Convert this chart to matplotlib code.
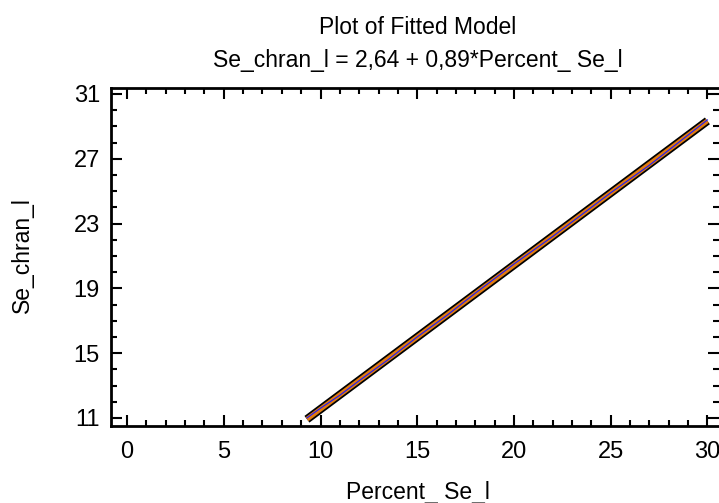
import matplotlib
matplotlib.use("Agg")
import matplotlib.pyplot as plt
from matplotlib.ticker import MultipleLocator

x_obs = [9.3, 10.0, 11.0, 12.0, 13.5, 15.0, 16.5, 18.0, 20.0, 22.0, 24.0, 25.0, 27.0, 28.5, 30.0]
y_obs = [11.0, 11.6, 12.4, 13.3, 14.6, 16.0, 17.3, 18.7, 20.5, 22.2, 24.0, 24.9, 26.6, 28.0, 29.4]

# fitted line end points
x_fit = [9.3, 30.0]
y_fit = [2.64 + 0.89 * 9.3, 2.64 + 0.89 * 30.0]

x_ticks = [0, 5, 10, 15, 20, 25, 30]
y_ticks = [11, 15, 19, 23, 27, 31]

plt.rcParams["font.family"] = ["Liberation Sans", "DejaVu Sans"]

W, H = 719, 503
fig = plt.figure(figsize=(W / 100, H / 100), dpi=100)
ax = fig.add_axes([111 / W, 1 - 426 / H, (719 - 111) / W, (426 - 88) / H])

ax.plot(x_fit, y_fit, color="black", lw=6, solid_capstyle="butt")
ax.plot(x_fit, y_fit, color="#e07a10", lw=3.5, solid_capstyle="butt")
ax.plot(x_obs, y_obs, color="#1a1aff", lw=0.8)

ax.set_xlim(-0.83, 30.6)
ax.set_ylim(10.5, 31.37)
ax.set_xticks(x_ticks)
ax.set_yticks(y_ticks)
ax.xaxis.set_minor_locator(MultipleLocator(1))
ax.yaxis.set_minor_locator(MultipleLocator(1))

for s in ["left", "bottom", "top"]:
    ax.spines[s].set_linewidth(2)
ax.spines["right"].set_visible(False)

ax.tick_params(which="both", direction="in", top=True, right=True, width=1.5)
ax.tick_params(which="major", length=8, labelsize=17)
ax.tick_params(which="minor", length=4)
ax.tick_params(axis="x", pad=11)
ax.tick_params(axis="y", pad=8)

fig.text(418 / W, 1 - 27 / H, "Plot of Fitted Model", ha="center", va="center", fontsize=16.5)
fig.text(418 / W, 1 - 60 / H, "Se_chran_l = 2,64 + 0,89*Percent_ Se_l",
         ha="center", va="center", fontsize=16.5)
fig.text(418 / W, 1 - 499 / H, "Percent_ Se_l", ha="center", va="baseline", fontsize=16.5)
fig.text(22 / W, 1 - 255 / H, "Se_chran_l", ha="center", va="center",
         rotation=90, fontsize=16.5)

fig.savefig("out.png", dpi=100)
